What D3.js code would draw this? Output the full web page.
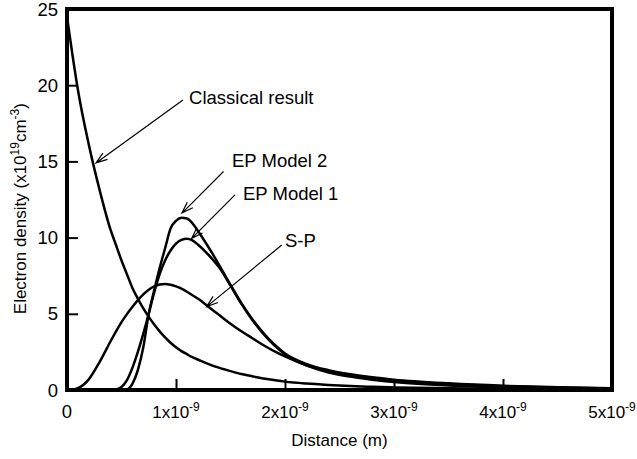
<!DOCTYPE html>
<html lang="en">
<head>
  <meta charset="UTF-8">
  <title>Electron density vs distance</title>
  <script src="https://d3js.org/d3.v7.min.js"></script>
  <style>
    body {
      margin: 0;
      background: #fff;
    }
    svg text {
      font-family: Arial, "Liberation Sans", Helvetica, sans-serif;
      fill: #000;
    }
    .curve {
      fill: none;
      stroke: #000;
      stroke-width: 2.5px;
    }
    .arrow {
      fill: none;
      stroke: #000;
      stroke-width: 1.2px;
    }
  </style>
</head>
<body>
  <svg id="chart"></svg>

  <script>
    // distance in units of 1e-9 m
    const distance = [0, 0.05, 0.1, 0.2, 0.3, 0.4, 0.45, 0.5, 0.55, 0.6, 0.65, 0.7, 0.75, 0.8, 0.85, 0.9, 0.95,
      1.0, 1.05, 1.1, 1.15, 1.2, 1.3, 1.4, 1.5, 1.6, 1.7, 1.8, 1.9, 2.0, 2.2, 2.4, 2.6, 2.8, 3.0, 3.5, 4.0, 4.5, 5.0];

    // electron density, x10^19 cm^-3
    const classical = [24.5, 22.0, 19.7, 16.1, 13.1, 10.5, 9.5, 8.5, 7.6, 6.7, 6.0, 5.35, 4.8, 4.3, 3.85, 3.45, 3.1,
      2.8, 2.55, 2.35, 2.15, 2.0, 1.7, 1.45, 1.24, 1.05, 0.9, 0.76, 0.65, 0.55, 0.42, 0.33, 0.26, 0.21, 0.17, 0.11, 0.07, 0.05, 0.03];
    const sp = [0, 0.03, 0.12, 0.7, 1.85, 3.2, 3.85, 4.45, 4.98, 5.45, 5.9, 6.28, 6.58, 6.8, 6.92, 6.95, 6.9,
      6.8, 6.65, 6.45, 6.22, 6.0, 5.45, 4.9, 4.35, 3.85, 3.4, 2.95, 2.55, 2.2, 1.6, 1.15, 0.88, 0.68, 0.52, 0.3, 0.17, 0.1, 0.05];
    const epModel1 = [0, 0, 0, 0, 0, 0, 0.04, 0.2, 0.65, 1.45, 2.5, 3.7, 5.0, 6.4, 7.6, 8.5, 9.15,
      9.6, 9.85, 9.92, 9.82, 9.55, 8.85, 8.0, 6.85, 5.65, 4.6, 3.7, 2.95, 2.35, 1.62, 1.22, 0.96, 0.76, 0.62, 0.39, 0.25, 0.16, 0.1];
    const epModel2 = [0, 0, 0, 0, 0, 0, 0, 0, 0.03, 0.4, 1.3, 2.8, 5.0, 6.55, 8.0, 9.3, 10.6,
      11.1, 11.3, 11.25, 10.95, 10.45, 9.35, 8.15, 6.9, 5.7, 4.65, 3.75, 3.0, 2.4, 1.7, 1.3, 1.03, 0.83, 0.68, 0.44, 0.28, 0.18, 0.11];

    const xTicks = [0, 1, 2, 3, 4, 5];
    const yTicks = [0, 5, 10, 15, 20, 25];

    // labels with arrows: text anchor point, arrow tail, arrow tip (data units)
    const labelNames = ["Classical result", "EP Model 2", "EP Model 1", "S-P"];
    const labelAt = [[1.12, 18.77], [1.514, 14.63], [1.615, 12.47], [2.0, 9.38]];
    const arrowFrom = [[1.064, 19.03], [1.436, 14.34], [1.541, 12.8], [1.97, 9.51]];
    const arrowTo = [[0.266, 14.9], [1.055, 11.61], [1.144, 9.95], [1.282, 5.47]];

    const W = 637, H = 459;
    const margin = { top: 9, right: 25, bottom: 69, left: 67 };
    const width = W - margin.left - margin.right;
    const height = H - margin.top - margin.bottom;

    const svg = d3.select("#chart").attr("width", W).attr("height", H);
    const g = svg.append("g").attr("transform", `translate(${margin.left},${margin.top})`);

    const x = d3.scaleLinear().domain([0, 5]).range([0, width]);
    const y = d3.scaleLinear().domain([0, 25]).range([height, 0]);

    const line = d3.line()
      .x(d => x(d[0]))
      .y(d => y(d[1]))
      .curve(d3.curveMonotoneX);

    [classical, sp, epModel1, epModel2].forEach(vals => {
      g.append("path")
        .datum(distance.map((d, i) => [d, vals[i]]))
        .attr("class", "curve")
        .attr("d", line);
    });

    // inner ticks
    g.append("g")
      .attr("transform", `translate(0,${height})`)
      .call(d3.axisBottom(x).tickValues(xTicks.slice(1, -1)).tickSize(-11).tickFormat(""))
      .call(a => a.select(".domain").remove())
      .call(a => a.selectAll("line").attr("stroke-width", 2));

    g.append("g")
      .call(d3.axisLeft(y).tickValues(yTicks.slice(1, -1)).tickSize(-11).tickFormat(""))
      .call(a => a.select(".domain").remove())
      .call(a => a.selectAll("line").attr("stroke-width", 2));

    // frame
    g.append("rect")
      .attr("width", width).attr("height", height)
      .attr("fill", "none").attr("stroke", "#000").attr("stroke-width", 4);

    // y tick labels
    g.selectAll(".ylab")
      .data(yTicks)
      .enter().append("text")
      .attr("x", -9)
      .attr("y", d => y(d))
      .attr("dy", "0.36em")
      .attr("text-anchor", "end")
      .style("font-size", "18.5px")
      .text(d => d);

    // x tick labels
    const xl = g.selectAll(".xlab")
      .data(xTicks)
      .enter().append("text")
      .attr("x", d => x(d))
      .attr("y", height + 28)
      .attr("text-anchor", "middle")
      .style("font-size", "17px");
    xl.filter(d => d === 0).style("font-size", "18.5px").text("0");
    xl.filter(d => d !== 0).each(function(d) {
      const t = d3.select(this);
      t.append("tspan").text(d + "x10");
      t.append("tspan").attr("dy", -7).style("font-size", "12px").text("-9");
    });

    // axis titles
    g.append("text")
      .attr("x", width / 2)
      .attr("y", height + 56)
      .attr("text-anchor", "middle")
      .style("font-size", "17px")
      .text("Distance (m)");

    const yt = g.append("text")
      .attr("transform", `translate(${-41},${y(11.9)}) rotate(-90)`)
      .attr("text-anchor", "middle")
      .style("font-size", "17px");
    yt.append("tspan").text("Electron density (x10");
    yt.append("tspan").attr("dy", -7).style("font-size", "12px").text("19");
    yt.append("tspan").attr("dy", 7).text("cm");
    yt.append("tspan").attr("dy", -7).style("font-size", "12px").text("-3");
    yt.append("tspan").attr("dy", 7).text(")");

    // annotations with open arrowheads
    labelNames.forEach((name, i) => {
      g.append("text")
        .attr("x", x(labelAt[i][0]))
        .attr("y", y(labelAt[i][1]))
        .style("font-size", "18.5px")
        .text(name);

      const x0 = x(arrowFrom[i][0]), y0 = y(arrowFrom[i][1]);
      const x1 = x(arrowTo[i][0]), y1 = y(arrowTo[i][1]);
      const ang = Math.atan2(y0 - y1, x0 - x1);
      const hl = 12, spread = 0.33;
      const p = d3.path();
      p.moveTo(x0, y0); p.lineTo(x1, y1);
      p.moveTo(x1 + hl * Math.cos(ang - spread), y1 + hl * Math.sin(ang - spread));
      p.lineTo(x1, y1);
      p.lineTo(x1 + hl * Math.cos(ang + spread), y1 + hl * Math.sin(ang + spread));
      g.append("path").attr("class", "arrow").attr("d", p.toString());
    });
  </script>
</body>
</html>
